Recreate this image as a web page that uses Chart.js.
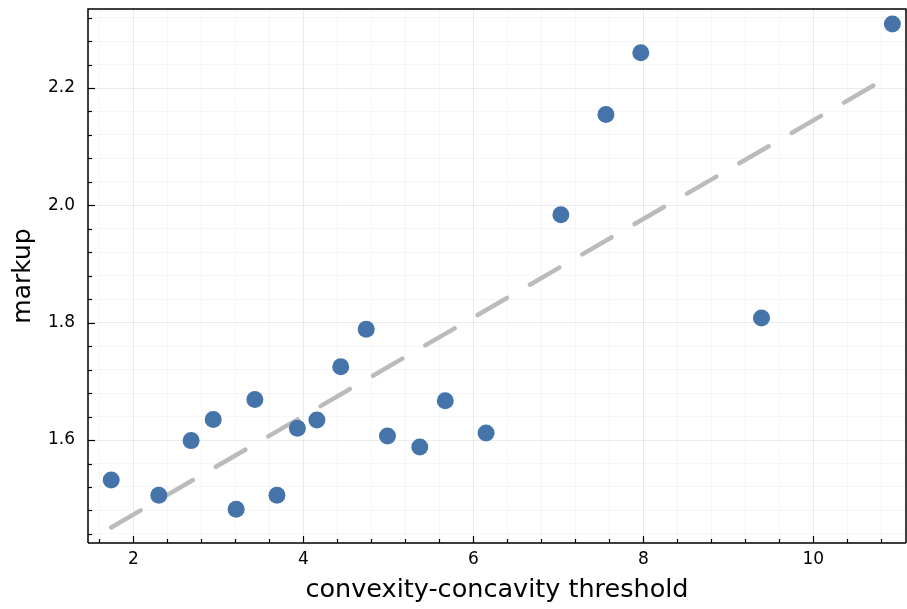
<!DOCTYPE html>
<html>
<head>
<meta charset="utf-8">
<script src="https://cdn.jsdelivr.net/npm/chart.js@4"></script>
<style>
  html, body { margin: 0; padding: 0; background: #fff; }
  #wrap { width: 907px; height: 609px; }
</style>
</head>
<body>
<div id="wrap"><canvas id="chart" width="907" height="609"></canvas></div>
<script>
// scatter data
const thresholds = [1.74, 2.30, 2.68, 2.94, 3.21, 3.43, 3.69, 3.93, 4.16, 4.44, 4.74, 4.99, 5.37, 5.67, 6.15, 7.03, 7.56, 7.97, 9.39, 10.93];
const markups = [1.532, 1.506, 1.599, 1.635, 1.482, 1.669, 1.506, 1.620, 1.634, 1.725, 1.789, 1.607, 1.588, 1.667, 1.612, 1.984, 2.155, 2.260, 1.808, 2.309];

// fitted line end points
const fitX = [1.74, 10.93];
const fitY = [1.451, 2.223];

const xMajor = [2, 4, 6, 8, 10];
const yMajor = [1.6, 1.8, 2.0, 2.2];

const isMajor = (v, list) => list.some(m => Math.abs(m - v) < 1e-6);

const font = 'DejaVu Sans';

// no extra padding from label overhang
function noPad(s) {
  s.paddingTop = 0;
  s.paddingBottom = 0;
  s.paddingLeft = 0;
  s.paddingRight = 0;
}

// inward ticks + frame, like the original
const framePlugin = {
  id: 'framePlugin',
  afterDraw(chart) {
    const { ctx, chartArea: a, scales: { x, y } } = chart;
    ctx.save();
    ctx.strokeStyle = '#000';
    ctx.lineWidth = 1.2;
    x.ticks.forEach(t => {
      const px = Math.round(x.getPixelForValue(t.value)) + 0.5;
      const len = isMajor(t.value, xMajor) ? 7 : 4;
      ctx.beginPath();
      ctx.moveTo(px, a.bottom);
      ctx.lineTo(px, a.bottom - len);
      ctx.stroke();
    });
    y.ticks.forEach(t => {
      const py = Math.round(y.getPixelForValue(t.value)) + 0.5;
      const len = isMajor(t.value, yMajor) ? 7 : 4;
      ctx.beginPath();
      ctx.moveTo(a.left, py);
      ctx.lineTo(a.left + len, py);
      ctx.stroke();
    });
    ctx.lineWidth = 1.5;
    ctx.beginPath();
    ctx.moveTo(a.left, a.bottom);
    ctx.lineTo(a.right, a.bottom);
    ctx.moveTo(a.left, a.bottom);
    ctx.lineTo(a.left, a.top);
    ctx.lineTo(a.right, a.top);
    ctx.lineTo(a.right, a.bottom);
    ctx.stroke();
    ctx.restore();
  }
};

new Chart(document.getElementById('chart'), {
  type: 'scatter',
  data: {
    datasets: [
      {
        data: thresholds.map((v, i) => ({ x: v, y: markups[i] })),
        backgroundColor: '#4474a9',
        borderWidth: 0,
        pointRadius: 8.5,
        pointHoverRadius: 8.5,
        order: 0,
      },
      {
        type: 'line',
        data: fitX.map((v, i) => ({ x: v, y: fitY[i] })),
        borderColor: '#bbbbbb',
        borderWidth: 4.5,
        borderDash: [34, 26.5],
        borderCapStyle: 'round',
        pointRadius: 0,
        fill: false,
        order: 1,
      },
    ],
  },
  options: {
    responsive: false,
    animation: false,
    devicePixelRatio: 1,
    layout: { autoPadding: false, padding: { top: 9, right: 1, left: 0, bottom: 0 } },
    plugins: {
      legend: { display: false },
      tooltip: { enabled: false },
    },
    scales: {
      x: {
        type: 'linear',
        min: 1.467,
        max: 11.09,
        afterFit(s) { s.height = 66; noPad(s); },
        border: { display: false },
        grid: {
          drawTicks: false,
          color: c => isMajor(c.tick.value, xMajor) ? 'rgba(0,0,0,0.08)' : 'rgba(0,0,0,0.035)',
        },
        ticks: {
          stepSize: 0.4,
          includeBounds: false,
          autoSkip: false,
          maxRotation: 0,
          padding: 6,
          color: '#000',
          font: { family: font, size: 17 },
          callback: v => isMajor(v, xMajor) ? String(Math.round(v)) : '',
        },
        title: {
          display: true,
          text: 'convexity-concavity threshold',
          color: '#000',
          font: { family: font, size: 25.5 },
          padding: { top: 0, bottom: 3 },
        },
      },
      y: {
        type: 'linear',
        min: 1.4245,
        max: 2.3347,
        afterFit(s) { s.width = 88; noPad(s); },
        border: { display: false },
        grid: {
          drawTicks: false,
          color: c => isMajor(c.tick.value, yMajor) ? 'rgba(0,0,0,0.08)' : 'rgba(0,0,0,0.035)',
        },
        ticks: {
          stepSize: 0.04,
          includeBounds: false,
          autoSkip: false,
          padding: 13,
          color: '#000',
          font: { family: font, size: 17 },
          callback: v => isMajor(v, yMajor) ? v.toFixed(1) : '',
        },
        title: {
          display: true,
          text: 'markup',
          color: '#000',
          font: { family: font, size: 25 },
          padding: { top: 8, bottom: 0 },
        },
      },
    },
  },
  plugins: [framePlugin],
});
</script>
</body>
</html>
